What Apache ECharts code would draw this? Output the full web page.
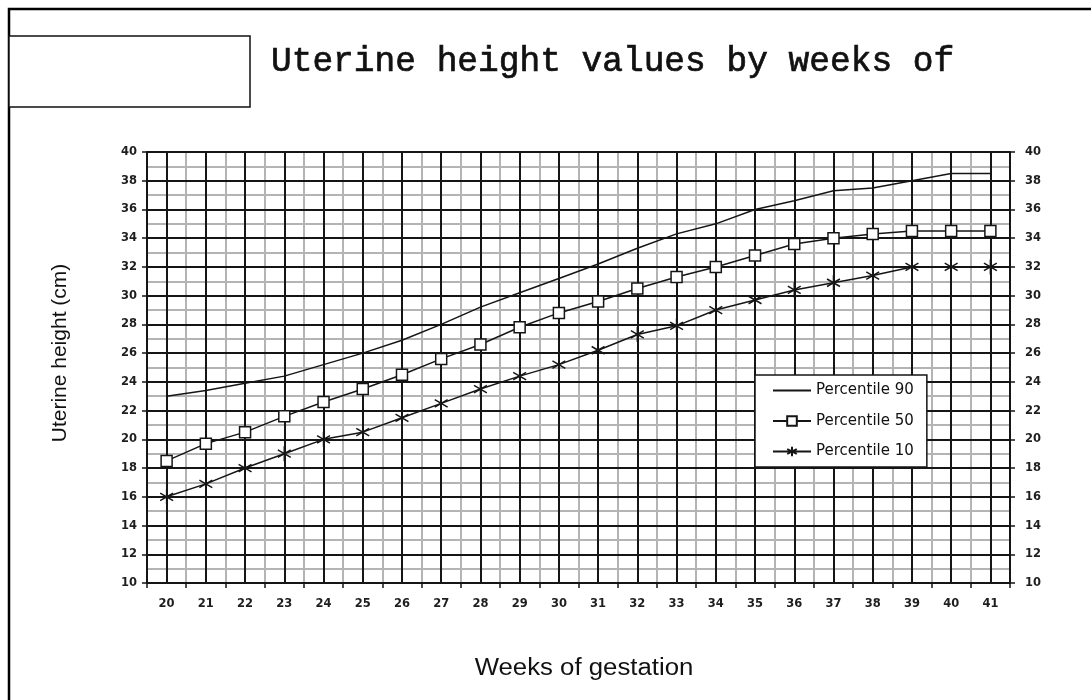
<!DOCTYPE html>
<html>
<head>
<meta charset="utf-8">
<script src="https://cdn.jsdelivr.net/npm/echarts@6/dist/echarts.min.js"></script>
<style>
html,body{margin:0;padding:0;background:#fff;}
#chart{width:1091px;height:700px;}
</style>
</head>
<body>
<div id="chart"></div>
<script>
// ---- data ----
const weeks = ['20','21','22','23','24','25','26','27','28','29','30','31','32','33','34','35','36','37','38','39','40','41'];
const p90 = [23.0, 23.4, 23.9, 24.4, 25.2, 26.0, 26.9, 28.0, 29.2, 30.2, 31.2, 32.2, 33.3, 34.3, 35.0, 36.0, 36.6, 37.3, 37.5, 38.0, 38.5, 38.5];
const p50 = [18.5, 19.7, 20.5, 21.6, 22.6, 23.5, 24.5, 25.6, 26.6, 27.8, 28.8, 29.6, 30.5, 31.3, 32.0, 32.8, 33.6, 34.0, 34.3, 34.5, 34.5, 34.5];
const p10 = [16.0, 16.9, 18.0, 19.0, 20.0, 20.5, 21.5, 22.5, 23.5, 24.4, 25.2, 26.2, 27.3, 27.9, 29.0, 29.7, 30.4, 30.9, 31.4, 32.0, 32.0, 32.0];
const seriesNames = ['Percentile 90', 'Percentile 50', 'Percentile 10'];
const titleText = 'Uterine height values by weeks of';
const yName = 'Uterine height (cm)';
const xName = 'Weeks of gestation';

const BLACK = '#151515';
const GRAY = '#b4b4b4';
const tickFont = {fontFamily: 'DejaVu Sans', fontWeight: 'bold', fontSize: 11.5, color: '#1e1e1e'};
const asterisk = 'path://M5,0 L5,10 M0.7,2.5 L9.3,7.5 M0.7,7.5 L9.3,2.5';

const chart = echarts.init(document.getElementById('chart'), null, {renderer: 'canvas'});
chart.setOption({
  animation: false,
  backgroundColor: '#ffffff',
  grid: {left: 147, right: 81, top: 152, bottom: 117, containLabel: false},
  xAxis: [
    {
      type: 'category', data: weeks, boundaryGap: true, position: 'bottom', z: 0,
      axisLine: {show: true, onZero: false, lineStyle: {color: BLACK, width: 2}},
      axisTick: {show: true, length: 5, lineStyle: {color: BLACK, width: 1.5}},
      axisLabel: Object.assign({margin: 15, interval: 0}, tickFont),
      splitLine: {show: true, lineStyle: {color: GRAY, width: 2}}
    },
    {
      type: 'value', min: 19.5, max: 41.5, interval: 1, position: 'bottom', z: 1,
      axisLine: {show: false, onZero: false}, axisTick: {show: false}, axisLabel: {show: false},
      splitLine: {show: false},
      minorTick: {show: false, splitNumber: 2},
      minorSplitLine: {show: true, lineStyle: {color: BLACK, width: 2}}
    }
  ],
  yAxis: [
    {
      type: 'value', min: 10, max: 40, interval: 2, position: 'left', z: 1,
      axisLine: {show: true, onZero: false, lineStyle: {color: BLACK, width: 2}},
      axisTick: {show: true, length: 5, lineStyle: {color: BLACK, width: 1.5}},
      axisLabel: Object.assign({margin: 10}, tickFont),
      splitLine: {show: true, lineStyle: {color: BLACK, width: 2}}
    },
    {
      type: 'value', min: 10, max: 40, interval: 2, position: 'right', z: 1,
      axisLine: {show: true, onZero: false, lineStyle: {color: BLACK, width: 2}},
      axisTick: {show: true, length: 5, lineStyle: {color: BLACK, width: 1.5}},
      axisLabel: Object.assign({margin: 15}, tickFont),
      splitLine: {show: false}
    },
    {
      type: 'value', min: 10, max: 40, interval: 1, position: 'left', z: 0,
      axisLine: {show: false, onZero: false}, axisTick: {show: false}, axisLabel: {show: false},
      splitLine: {show: true, lineStyle: {color: GRAY, width: 2}}
    }
  ],
  legend: {
    orient: 'vertical', left: 755, top: 375,
    itemWidth: 38, itemHeight: 12, itemGap: 15.5,
    padding: [8, 13, 8, 17],
    backgroundColor: '#fff', borderColor: BLACK, borderWidth: 1.5, borderRadius: 0,
    textStyle: {fontFamily: 'DejaVu Sans', fontSize: 15, color: '#111'},
    data: [
      {name: seriesNames[0], itemStyle: {opacity: 0}},
      {name: seriesNames[1]},
      {name: seriesNames[2]}
    ],
    z: 10
  },
  series: [
    {
      name: seriesNames[0], type: 'line', data: p90, xAxisIndex: 0, yAxisIndex: 0,
      symbol: 'none', lineStyle: {color: BLACK, width: 1.5}, itemStyle: {color: BLACK}, z: 3
    },
    {
      name: seriesNames[1], type: 'line', data: p50, xAxisIndex: 0, yAxisIndex: 0,
      symbol: 'rect', symbolSize: 11, showSymbol: true,
      lineStyle: {color: BLACK, width: 1.5},
      itemStyle: {color: '#fff', borderColor: BLACK, borderWidth: 1.5}, z: 3
    },
    {
      name: seriesNames[2], type: 'line', data: p10, xAxisIndex: 0, yAxisIndex: 0,
      symbol: asterisk, symbolSize: 15, symbolKeepAspect: true, showSymbol: true,
      lineStyle: {color: BLACK, width: 1.5},
      itemStyle: {color: BLACK, borderColor: BLACK, borderWidth: 1.5}, z: 3
    }
  ],
  graphic: [
    {type: 'polyline', silent: true, shape: {points: [[9, 700], [9, 9], [1091, 9]]},
     style: {stroke: '#000', lineWidth: 2.5, fill: null}},
    {type: 'rect', silent: true, shape: {x: 9, y: 36, width: 241, height: 71},
     style: {stroke: '#111', lineWidth: 1.5, fill: '#fff'}},
    {type: 'text', silent: true, x: 271, y: 62,
     style: {text: titleText, font: 'normal 34.5px "Liberation Mono"', fill: '#111',
             stroke: '#111', lineWidth: 0.7,
             textAlign: 'left', align: 'left', textVerticalAlign: 'middle', verticalAlign: 'middle'}},
    {type: 'text', silent: true, x: 60, y: 353, rotation: Math.PI / 2,
     style: {text: yName, font: 'normal 21px "Liberation Sans"', fill: '#111',
             textAlign: 'center', align: 'center', textVerticalAlign: 'middle', verticalAlign: 'middle'}},
    {type: 'text', silent: true, x: 584, y: 669, scaleX: 1.12,
     style: {text: xName, font: 'normal 23px "Liberation Sans"', fill: '#111',
             textAlign: 'center', align: 'center', textVerticalAlign: 'middle', verticalAlign: 'middle'}}
  ]
});
</script>
</body>
</html>
